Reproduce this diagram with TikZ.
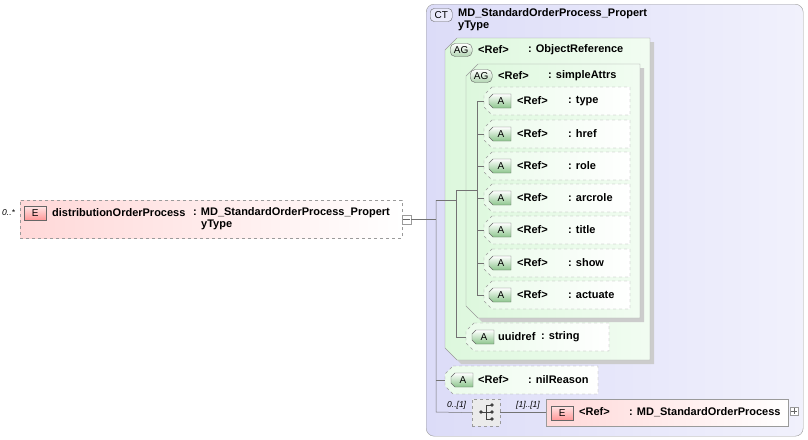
\documentclass[tikz,border=0pt]{standalone}
\usepackage{fontspec}
\setmainfont{Liberation Sans}
\usetikzlibrary{calc}
\definecolor{ctfill}{HTML}{DCDCF8}
\definecolor{grfill}{HTML}{DDF8DD}
\definecolor{pinkf}{HTML}{FFD8D8}
\definecolor{edge}{HTML}{9A9A9A}
% #1 name, #2 x, #3 y, #4 w, #5 h, #6 chamfer, #7 style
\newcommand\chbox[7]{%
  \path[#7] (#2+#6,#3) -- (#2+#4,#3) -- (#2+#4,#3+#5) -- (#2+#6,#3+#5) -- (#2,#3+#5-#6) -- (#2,#3+#6) -- cycle;
  \coordinate (#1) at (#2,#3+#5/2);}
\begin{document}
\begin{tikzpicture}[x=1pt,y=-1pt,
  txt/.style={font=\fontsize{11}{13}\selectfont\bfseries,anchor=west,inner sep=0},
  mult/.style={font=\fontsize{8.5}{9}\selectfont\itshape,anchor=west,inner sep=0},
  box/.style={draw=edge,anchor=north west,inner sep=0},
  attr/.style={draw=edge,dashed,left color=grfill!60,right color=white},
  grp/.style={draw=edge,left color=grfill,right color=grfill!40},
  badgeG/.style={draw=black!60,anchor=west,rounded corners=5pt,top color=white,bottom color=green!45!black!30,minimum width=22pt,minimum height=13pt,inner sep=0,font=\fontsize{10}{10}\selectfont},
  badgeE/.style={draw=black!60,anchor=west,top color=pink!40,bottom color=red!40,minimum width=22pt,minimum height=14pt,inner sep=0,font=\fontsize{10}{10}\selectfont},
  con/.style={draw=black!55,line width=0.5pt}]
\newcommand\badA[2]{%
  \path[draw=black!60,top color=white,bottom color=green!50!black!45] (#1+4,#2-7) -- (#1+22,#2-7) -- (#1+22,#2+7) -- (#1+4,#2+7) -- (#1,#2+3) -- (#1,#2-3) -- cycle;
  \node[inner sep=0,font=\fontsize{10}{10}\selectfont] at (#1+12,#2) {A};}
\useasboundingbox (0,0) rectangle (808,439);
% CT container
\node[box,rounded corners=8pt,left color=ctfill,right color=ctfill!40,minimum width=377pt,minimum height=432pt] (ct) at (426,4) {};
\node[draw=black!60,rounded corners=4pt,fill=ctfill!60,minimum width=22pt,minimum height=13pt,inner sep=0,font=\fontsize{10}{10}\selectfont,anchor=west] (ctb) at (430,15) {CT};
\node[txt] (ctt) at (458,14) {MD\_StandardOrderProcess\_Propert};
\node[txt] (ctt2) at (458,26) {yType};
% ObjectReference group
\chbox{g1s}{449}{42}{205}{322}{12}{fill=black!20}
\chbox{g1}{445}{38}{205}{322}{12}{grp}
\node[badgeG] (g1b) at (450,50) {AG};
\node[txt] at (478,50) {<Ref>};
\node[txt] at (528,50) {: ObjectReference};
% simpleAttrs group
\chbox{g2s}{470}{68}{174}{254}{12}{fill=black!20}
\chbox{g2}{466}{64}{174}{254}{12}{grp}
\node[badgeG] (g2b) at (470,76) {AG};
\node[txt] at (498,76) {<Ref>};
\node[txt] at (548,76) {: simpleAttrs};
% attributes
\foreach \n/\y/\t in {a1/101/type,a2/134/href,a3/166/role,a4/198/arcrole,a5/230/title,a6/263/show,a7/295/actuate}{
  \chbox{\n}{484}{\y-14}{146}{28}{8}{attr}
  \badA{489}{\y}
  \node[txt] at (517,\y) {<Ref>};
  \node[txt] at (568,\y) {: \t};
}
\chbox{uu}{466}{323}{143}{28}{8}{attr}
\badA{472}{337}
\node[txt] at (498,337) {uuidref};
\node[txt] at (541,337) {: string};
\chbox{nil}{445}{366}{153}{28}{8}{attr}
\badA{451}{380}
\node[txt] at (478,380) {<Ref>};
\node[txt] at (528,380) {: nilReason};
% choice
\node[box,dashed,fill=black!8,minimum width=28pt,minimum height=27pt] (ch) at (472,399) {};
\fill[black!75] (481,412) circle (1.8pt);
\draw[black!75,line width=0.9pt] (481,412)--(486,412) (486,405)--(486,419) (486,405)--(491,405) (486,412)--(491,412) (486,419)--(491,419);
\foreach \yy in {405,412,419} \fill[black!75] (492,\yy) circle (1.9pt);
\node[mult] at (447,405) {0..[1]};
\node[mult] at (516,405) {[1]..[1]};
% element ref
\node[box,left color=pinkf,right color=white,minimum width=242pt,minimum height=27pt] (er) at (546,399) {};
\node[badgeE] at (551,413) {E};
\node[txt] at (579,412) {<Ref>};
\node[txt] at (629,412) {: MD\_StandardOrderProcess};
\node[draw=edge,fill=white,minimum size=8pt,inner sep=0] (plus) at (794,411) {};
\draw[black!60] (791,411)--(797,411) (794,408)--(794,414);
% main element
\node[box,dashed,left color=pinkf,right color=white,minimum width=382pt,minimum height=38pt] (el) at (20,200) {};
\node[badgeE] at (24,213) {E};
\node[txt] at (52,213) {distributionOrderProcess};
\node[txt] at (193,213) {: MD\_StandardOrderProcess\_Propert};
\node[txt] at (201,225) {yType};
\node[mult] at (2,213) {0..*};
\node[draw=edge,fill=white,minimum size=9pt,inner sep=0] (minus) at (406.5,219.5) {};
\draw[black!60] (403,219.5)--(410,219.5);
% connectors
\coordinate (j0) at (436,219.5);
\draw[con] (minus.east) -- (j0);
\draw[con] (436,200) -- (436,412) -- (ch.west);
\draw[con] (436,200) -- (456,200);
\draw[con] (436,0 |- nil) -- (nil);
\draw[con] (456,190) -- (456,337) -- (uu);
\draw[con] (456,190) -- (477,190);
\draw[con] (477,101) -- (477,295);
\foreach \n in {a1,a2,a3,a4,a5,a6,a7} \draw[con] (477,0 |- \n) -- (\n);
\draw[con] (ch.east) -- (er.west);
\end{tikzpicture}
\end{document}
